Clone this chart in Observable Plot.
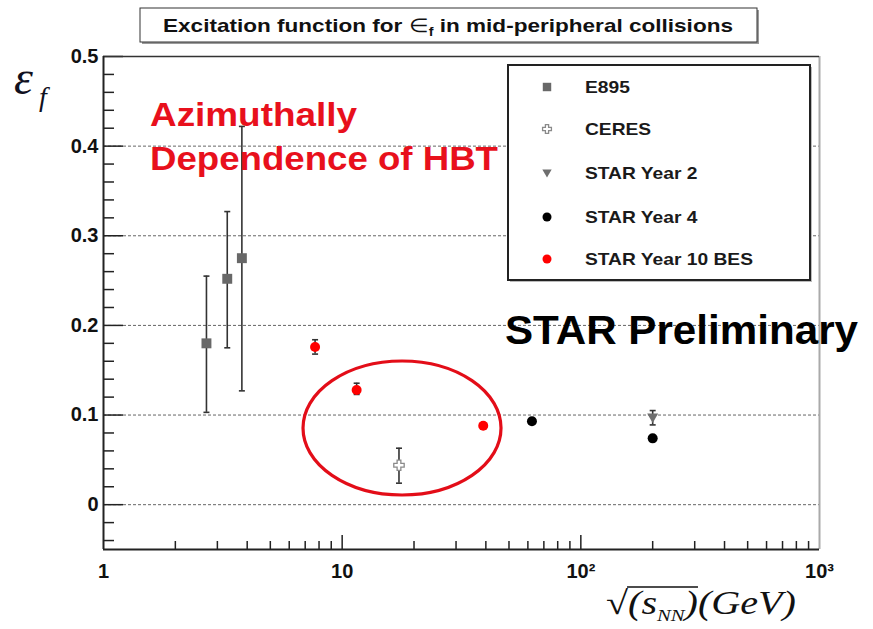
<!DOCTYPE html>
<html>
<head>
<meta charset="utf-8">
<script src="https://cdn.jsdelivr.net/npm/d3@7"></script>
<script src="https://cdn.jsdelivr.net/npm/@observablehq/plot@0.6"></script>
<style>
  body { margin: 0; background: #fff; }
  #chart { position: relative; width: 873px; height: 629px; overflow: hidden; }
</style>
</head>
<body>
<div id="chart"></div>
<script>
// ---------- data ----------
const e895X   = [2.7, 3.3, 3.8];
const e895Y   = [0.180, 0.252, 0.275];
const e895Lo  = [0.077, 0.077, 0.148];
const e895Hi  = [0.075, 0.075, 0.147];

const ceresX  = [17.3];
const ceresY  = [0.044];
const ceresLo = [0.020];
const ceresHi = [0.019];

const star2X  = [200];
const star2Y  = [0.097];
const star2Lo = [0.008];
const star2Hi = [0.008];

const star4X  = [62.4, 200];
const star4Y  = [0.093, 0.074];
const star4Lo = [0.003, 0.003];
const star4Hi = [0.003, 0.003];

const star10X  = [7.7, 11.5, 39];
const star10Y  = [0.176, 0.128, 0.088];
const star10Lo = [0.008, 0.005, 0.003];
const star10Hi = [0.008, 0.0075, 0.003];

const seriesNames = ["E895", "CERES", "STAR Year 2", "STAR Year 4", "STAR Year 10 BES"];

const xLabelValues = [1, 10, 100, 1000];
const xLabelText   = ["1", "10", "10\u00B2", "10\u00B3"];
const xMajorTicks  = [10, 100];
const xMinorTicks  = [2, 3, 4, 5, 6, 7, 8, 9, 20, 30, 40, 50, 60, 70, 80, 90, 200, 300, 400, 500, 600, 700, 800, 900];

const yLabelValues = [0, 0.1, 0.2, 0.3, 0.4, 0.5];
const yLabelText   = ["0", "0.1", "0.2", "0.3", "0.4", "0.5"];
const yMinorTicks  = [-0.04, -0.02, 0.02, 0.04, 0.06, 0.08, 0.12, 0.14, 0.16, 0.18, 0.22, 0.24, 0.26, 0.28,
                      0.32, 0.34, 0.36, 0.38, 0.42, 0.44, 0.46, 0.48];
const yGridValues  = [0, 0.1, 0.2, 0.3, 0.4];

const titleText   = ["Excitation function for ", "\u2208", "f", " in mid-peripheral collisions"];
const annotLine1  = "Azimuthally";
const annotLine2  = "Dependence of HBT";
const prelimText  = "STAR Preliminary";
const ellipseCenter = {x: 17.9, y: 0.085};

// ---------- layout ----------
const W = 873, H = 629;
const mL = 103, mR = 54, mT = 56, mB = 80;
const plotW = W - mL - mR, plotH = H - mT - mB;
const SANS = "Liberation Sans, Arial, Helvetica, sans-serif";
const SERIF = "Liberation Serif, Times New Roman, serif";

// ---------- symbols ----------
const capSym = {draw(ctx, size) { const r = Math.sqrt(size / Math.PI); ctx.moveTo(-r, 0); ctx.lineTo(r, 0); }};
const triDown = {draw(ctx, size) { const r = Math.sqrt(size / Math.PI);
  ctx.moveTo(-r, -0.75 * r); ctx.lineTo(r, -0.75 * r); ctx.lineTo(0, 0.95 * r); ctx.closePath(); }};
const openCross = {draw(ctx, size) { const r = Math.sqrt(size / Math.PI), a = r * 0.36;
  ctx.moveTo(-a, -r); ctx.lineTo(a, -r); ctx.lineTo(a, -a); ctx.lineTo(r, -a); ctx.lineTo(r, a);
  ctx.lineTo(a, a); ctx.lineTo(a, r); ctx.lineTo(-a, r); ctx.lineTo(-a, a); ctx.lineTo(-r, a);
  ctx.lineTo(-r, -a); ctx.lineTo(-a, -a); ctx.closePath(); }};

const rows = (xs, ys, lo, hi) => xs.map((x, i) => ({x, y: ys[i], lo: ys[i] - lo[i], hi: ys[i] + hi[i]}));

const series = [
  {name: seriesNames[0], rows: rows(e895X, e895Y, e895Lo, e895Hi), symbol: "square", fill: "#686868", stroke: "none", r: 5.6, sw: 0},
  {name: seriesNames[1], rows: rows(ceresX, ceresY, ceresLo, ceresHi), symbol: openCross, fill: "#fff", stroke: "#8a8a8a", r: 5.2, sw: 1.3},
  {name: seriesNames[2], rows: rows(star2X, star2Y, star2Lo, star2Hi), symbol: triDown, fill: "#6e6e6e", stroke: "none", r: 5.5, sw: 0},
  {name: seriesNames[3], rows: rows(star4X, star4Y, star4Lo, star4Hi), symbol: "circle", fill: "#000", stroke: "none", r: 5, sw: 0},
  {name: seriesNames[4], rows: rows(star10X, star10Y, star10Lo, star10Hi), symbol: "circle", fill: "#ff0000", stroke: "none", r: 5, sw: 0}
];

const marks = [];
marks.push(Plot.ruleY(yGridValues, {y: d => d, stroke: "#666", strokeWidth: 1, strokeDasharray: "3,2"}));
for (const s of series) {
  marks.push(Plot.ruleX(s.rows, {x: "x", y1: "lo", y2: "hi", stroke: "#333", strokeWidth: 1.6}));
  marks.push(Plot.dot(s.rows, {x: "x", y: "lo", symbol: capSym, r: 3, stroke: "#333", strokeWidth: 1.6}));
  marks.push(Plot.dot(s.rows, {x: "x", y: "hi", symbol: capSym, r: 3, stroke: "#333", strokeWidth: 1.6}));
}
for (const s of series) {
  marks.push(Plot.dot(s.rows, {x: "x", y: "y", symbol: s.symbol, r: s.r, fill: s.fill, stroke: s.stroke, strokeWidth: s.sw}));
}
marks.push(Plot.tickX(xMajorTicks, {x: d => d, insetTop: plotH - 14, stroke: "#222", strokeWidth: 1.5}));
marks.push(Plot.tickX(xMinorTicks, {x: d => d, insetTop: plotH - 8, stroke: "#222", strokeWidth: 1.5}));
marks.push(Plot.tickY(yLabelValues, {y: d => d, insetRight: plotW - 20, stroke: "#222", strokeWidth: 1.5}));
marks.push(Plot.tickY(yMinorTicks, {y: d => d, insetRight: plotW - 11, stroke: "#222", strokeWidth: 1.5}));
marks.push(Plot.ruleX([1000], {stroke: "#aaa", strokeWidth: 2}));
marks.push(Plot.ruleY([0.5], {stroke: "#333", strokeWidth: 1.5}));
marks.push(Plot.ruleX([1], {stroke: "#222", strokeWidth: 2}));
marks.push(Plot.ruleY([-0.05], {stroke: "#222", strokeWidth: 2}));
marks.push(Plot.text(xLabelValues, {x: d => d, text: (d, i) => xLabelText[i], frameAnchor: "bottom", dy: 28,
  fontSize: 20, fontWeight: "bold", fill: "#111"}));
marks.push(Plot.text(yLabelValues, {y: d => d, text: (d, i) => yLabelText[i], frameAnchor: "left", dx: -5,
  textAnchor: "end", fontSize: 20, fontWeight: "bold", fill: "#111"}));

const chart = Plot.plot({
  width: W, height: H,
  marginLeft: mL, marginRight: mR, marginTop: mT, marginBottom: mB,
  x: {type: "log", domain: [1, 1000], axis: null},
  y: {domain: [-0.05, 0.5], axis: null},
  style: {fontFamily: SANS, background: "#fff", overflow: "visible"},
  marks
});
document.getElementById("chart").appendChild(chart);

// ---------- annotations ----------
const svg = d3.select(chart);
const xs = chart.scale("x"), ys = chart.scale("y");
const stretchTo = (sel, len) => sel.attr("textLength", len).attr("lengthAdjust", "spacingAndGlyphs");
const stretchBy = (sel, f) => stretchTo(sel, sel.node().getComputedTextLength() * f);

// title box
const tg = svg.append("g");
tg.append("rect").attr("x", 142).attr("y", 10).attr("width", 617).attr("height", 34).attr("fill", "#9a9a9a");
tg.append("rect").attr("x", 140).attr("y", 8).attr("width", 617).attr("height", 34)
  .attr("fill", "#fff").attr("stroke", "#333").attr("stroke-width", 1);
const tt = tg.append("text").attr("x", 163).attr("y", 32).attr("text-anchor", "start")
  .attr("font-family", SANS).attr("font-weight", "bold").attr("font-size", 19).attr("fill", "#111");
tt.append("tspan").text(titleText[0]);
tt.append("tspan").attr("font-weight", "normal").text(titleText[1]);
tt.append("tspan").attr("font-size", 12).attr("dy", 4).text(titleText[2]);
tt.append("tspan").attr("dy", -4).text(titleText[3]);
stretchTo(tt, 570);

// y-axis title
const yt = svg.append("text").attr("x", 14).attr("y", 94).attr("text-anchor", "start").attr("font-family", SERIF)
  .attr("font-style", "italic").attr("font-size", 48).attr("fill", "#101020");
yt.append("tspan").text("\u03B5");
yt.append("tspan").attr("font-size", 28).attr("dx", 6).attr("dy", 12).text("f");

// x-axis title: sqrt(s_NN)(GeV)
const xt = svg.append("text").attr("x", 606).attr("y", 614).attr("text-anchor", "start").attr("font-family", SERIF)
  .attr("font-size", 33).attr("fill", "#111");
xt.append("tspan").text("\u221A");
const rad = xt.append("tspan").attr("font-style", "italic");
rad.append("tspan").text("(");
rad.append("tspan").text("s");
rad.append("tspan").attr("font-size", 17).attr("dy", 7).text("NN");
rad.append("tspan").attr("dy", -7).text(")");
xt.append("tspan").attr("font-style", "italic").text("(GeV)");
stretchTo(xt, 190);
{
  const full = xt.node();
  const startX = full.getStartPositionOfChar(1).x;
  const endX = full.getEndPositionOfChar(5).x;
  svg.append("line").attr("x1", startX - 1).attr("x2", endX).attr("y1", 587).attr("y2", 587)
    .attr("stroke", "#111").attr("stroke-width", 1.5);
}

// red annotation
stretchTo(svg.append("text").attr("x", 150).attr("y", 126).attr("text-anchor", "start").attr("font-family", SANS)
  .attr("font-weight", "bold").attr("font-size", 34).attr("fill", "#e8101c").text(annotLine1), 207);
stretchTo(svg.append("text").attr("x", 150).attr("y", 170).attr("text-anchor", "start").attr("font-family", SANS)
  .attr("font-weight", "bold").attr("font-size", 34).attr("fill", "#e8101c").text(annotLine2), 348);

// STAR Preliminary
stretchTo(svg.append("text").attr("x", 505).attr("y", 344).attr("text-anchor", "start").attr("font-family", SANS)
  .attr("font-weight", "bold").attr("font-size", 40).attr("fill", "#000").text(prelimText), 353);

// ellipse
svg.append("ellipse").attr("cx", xs.apply(ellipseCenter.x)).attr("cy", ys.apply(ellipseCenter.y))
  .attr("rx", 99).attr("ry", 67).attr("fill", "none").attr("stroke", "#e30d18").attr("stroke-width", 3.2);

// legend
const lg = svg.append("g");
lg.append("rect").attr("x", 510).attr("y", 67).attr("width", 302).attr("height", 215).attr("fill", "#bbb");
lg.append("rect").attr("x", 508).attr("y", 65).attr("width", 302).attr("height", 215)
  .attr("fill", "#fff").attr("stroke", "#222").attr("stroke-width", 2);
const rowY = [87, 129, 173, 217, 259];
const d3sym = s => s === "square" ? d3.symbolSquare : s === "circle" ? d3.symbolCircle : s;
series.forEach((s, i) => {
  const legR = s.symbol === "circle" ? 4.5 : s.r * 0.85;
  lg.append("path").attr("transform", `translate(547,${rowY[i]})`)
    .attr("d", d3.symbol(d3sym(s.symbol), Math.PI * legR * legR)())
    .attr("fill", s.fill).attr("stroke", s.stroke === "none" ? null : s.stroke).attr("stroke-width", s.sw || null);
  const t = lg.append("text").attr("x", 585).attr("y", rowY[i]).attr("dy", "0.36em").attr("text-anchor", "start")
    .attr("font-family", SANS).attr("font-weight", "bold").attr("font-size", 17).attr("fill", "#1a1a1a")
    .text(s.name);
  stretchBy(t, 1.13);
});
</script>
</body>
</html>
